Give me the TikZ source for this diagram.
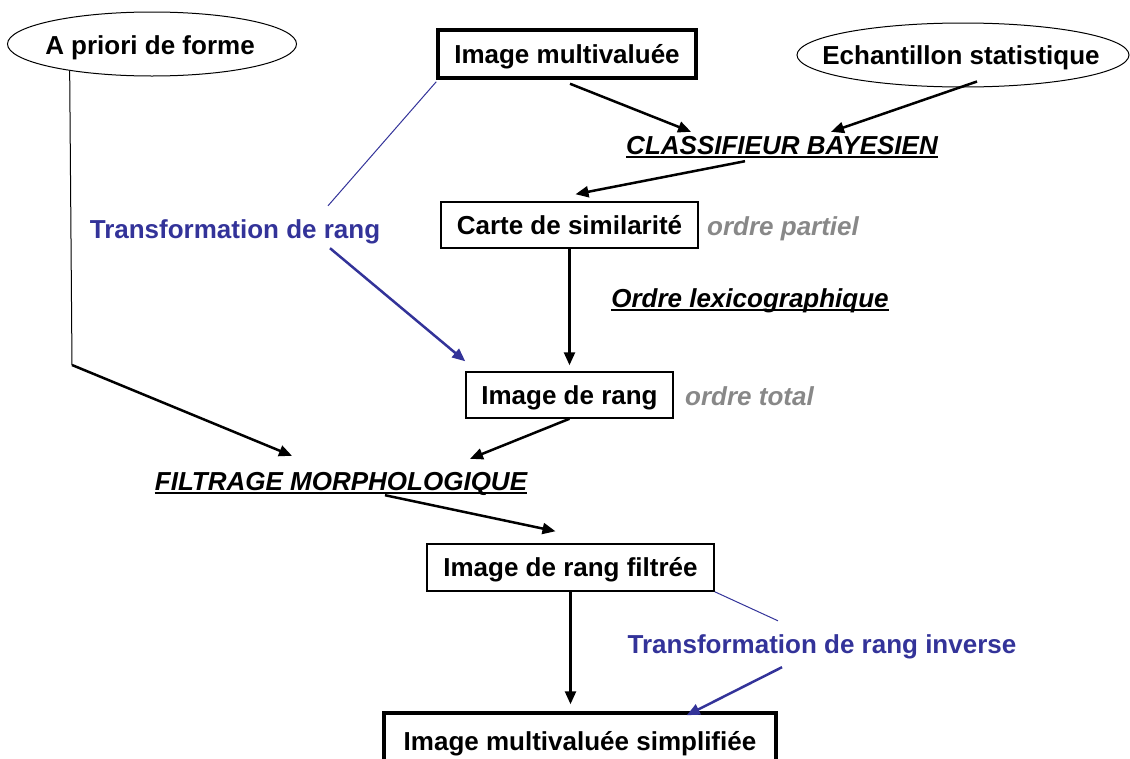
\documentclass[tikz,border=0pt]{standalone}
\usepackage{fontspec}
\setmainfont{Liberation Sans}
\usetikzlibrary{arrows.meta,shapes.geometric}
\definecolor{tblue}{RGB}{51,51,153}
\definecolor{tgrey}{RGB}{136,136,136}
\begin{document}
\begin{tikzpicture}[x=1pt,y=-1pt,
  every node/.style={font=\fontsize{26}{31}\selectfont\bfseries,text height=18pt,text depth=0pt},
  box/.style={draw,line width=1.5pt,inner sep=0pt,minimum height=46pt},
  thickbox/.style={box,line width=3.5pt},
  oval/.style={draw,ellipse,line width=1pt,inner sep=0pt,minimum height=64pt},
  lbl/.style={inner sep=0pt},
  ital/.style={lbl,font=\fontsize{26}{31}\selectfont\bfseries\itshape},
  grey/.style={ital,text=tgrey},
  bluelbl/.style={lbl,text=tblue},
  arr/.style={line width=2.5pt,-{Triangle[length=13pt,width=11pt]}},
  bluearr/.style={arr,draw=tblue,fill=tblue},
  thinblue/.style={line width=1pt,draw=tblue},
  uline/.style={line width=2pt}
]
\useasboundingbox (0,0) rectangle (1130,758);

% nodes
\node[oval,minimum width=289pt] (apriori) at (152,44) {};
\node[lbl] (aprioritext) at (150,45) {A priori de forme};
\node[thickbox,minimum width=258pt,minimum height=48pt] (imv) at (567,54) {Image multivaluée};
\node[oval,minimum width=332pt] (ech) at (963,55) {};
\node[lbl] (echtext) at (961,55) {Echantillon statistique};
\node[ital] (cls) at (782,145) {CLASSIFIEUR BAYESIEN};
\node[box,minimum width=257pt] (carte) at (569.5,225) {Carte de similarité};
\node[grey,anchor=west] (partiel) at (707,226) {ordre partiel};
\node[ital] (lexico) at (750,298) {Ordre lexicographique};
\node[box,minimum width=207pt] (rang) at (569.5,395) {Image de rang};
\node[grey,anchor=west] (total) at (685,396) {ordre total};
\node[bluelbl] (tr) at (235,229) {Transformation de rang};
\node[ital] (filt) at (341,481) {FILTRAGE MORPHOLOGIQUE};
\node[box,minimum width=287pt,minimum height=47pt] (filtree) at (570.5,567.5) {Image de rang filtrée};
\node[bluelbl] (inv) at (822,644) {Transformation de rang inverse};
\node[thickbox,minimum width=392pt,minimum height=56pt] (simp) at (580,741) {Image multivaluée simplifiée};

% underlines
\draw[uline] ([yshift=-3pt]cls.base west) -- ([yshift=-3pt]cls.base east);
\draw[uline] ([yshift=-3pt]lexico.base west) -- ([yshift=-3pt]lexico.base east);
\draw[uline] ([yshift=-3pt]filt.base west) -- ([yshift=-3pt]filt.base east);

% connectors
\draw[arr] ([xshift=3pt,yshift=-4pt]imv.south) -- ([xshift=65pt,yshift=4pt]cls.north west);
\draw[arr] ([xshift=14pt,yshift=6pt]ech.south) -- ([xshift=205pt,yshift=4pt]cls.north west);
\draw[arr] ([xshift=-37pt,yshift=-7pt]cls.south) -- ([xshift=6pt,yshift=7pt]carte.north);
\draw[arr,shorten >=6pt] (carte.south) -- (rang.north);
\draw[arr] (rang.south) -- ([xshift=129pt,yshift=13pt]filt.north);

\coordinate (bend) at (72,365);
\draw[line width=1pt] (apriori.198) -- (bend);
\draw[arr] (bend) -- ([xshift=-49pt,yshift=16pt]filt.north);

\draw[arr] ([xshift=44pt,yshift=-5pt]filt.south) -- ([xshift=-15pt,yshift=12pt]filtree.north);
\draw[arr,shorten >=7pt] (filtree.south) -- (filtree.south |- simp.north);

\draw[thinblue] ([yshift=-2pt]imv.south west) -- ([xshift=93pt,yshift=14pt]tr.north);
\draw[bluearr] ([xshift=95pt,yshift=-10pt]tr.south) -- ([yshift=10pt]rang.north west);
\draw[thinblue] (filtree.south east) -- ([xshift=-44pt,yshift=14pt]inv.north);
\draw[bluearr] ([xshift=-40pt,yshift=-14pt]inv.south) -- ([xshift=-91pt,yshift=-4pt]simp.north east);
\end{tikzpicture}
\end{document}
